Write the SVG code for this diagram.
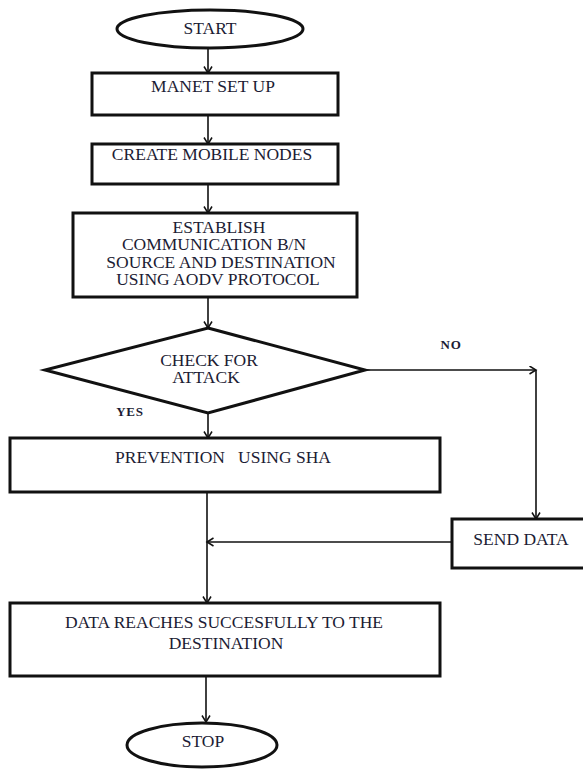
<svg xmlns="http://www.w3.org/2000/svg" width="583" height="769" viewBox="0 0 583 769">
<defs>
<marker id="arr" markerWidth="10" markerHeight="10" refX="7" refY="4.5" orient="auto" markerUnits="userSpaceOnUse">
<path d="M0.5,0.5 L7,4.5 L0.5,8.5" fill="none" stroke="#111" stroke-width="1.5"/>
</marker>
<style>
.box{fill:#fff;stroke:#111;stroke-width:3}
.t{font-family:"Liberation Serif","Times New Roman",serif;font-size:17.5px;fill:#1c1c34;text-anchor:middle}
.lbl{font-family:"Liberation Serif","Times New Roman",serif;font-size:13px;font-weight:bold;fill:#1c1c34;text-anchor:middle;letter-spacing:0.8px}
.c{fill:none;stroke:#111;stroke-width:1.6}
</style>
</defs>
<rect width="583" height="769" fill="#fff"/>
<g id="connectors">
<line class="c" x1="208" y1="49" x2="208" y2="73" marker-end="url(#arr)"/>
<line class="c" x1="208" y1="115" x2="208" y2="144" marker-end="url(#arr)"/>
<line class="c" x1="208" y1="184" x2="208" y2="213" marker-end="url(#arr)"/>
<line class="c" x1="208" y1="297" x2="208" y2="328" marker-end="url(#arr)"/>
<line class="c" x1="208" y1="413" x2="208" y2="438" marker-end="url(#arr)"/>
<line class="c" x1="365" y1="370" x2="536" y2="370" marker-end="url(#arr)"/>
<line class="c" x1="536" y1="370" x2="536" y2="519" marker-end="url(#arr)"/>
<line class="c" x1="207" y1="492" x2="207" y2="603" marker-end="url(#arr)"/>
<line class="c" x1="452" y1="542" x2="207" y2="542" marker-end="url(#arr)"/>
<line class="c" x1="206" y1="676" x2="206" y2="722" marker-end="url(#arr)"/>
<text class="lbl" x="130" y="416">YES</text>
<text class="lbl" x="451" y="349">NO</text>
</g>
<g id="start">
<ellipse class="box" cx="210" cy="29" rx="93" ry="19"/>
<text class="t" x="210" y="34">START</text>
</g>
<g id="manet">
<rect class="box" x="92" y="73" width="246" height="42"/>
<text class="t" x="213" y="92">MANET SET UP</text>
</g>
<g id="create">
<rect class="box" x="92" y="144" width="246" height="40"/>
<text class="t" x="212" y="160">CREATE MOBILE NODES</text>
</g>
<g id="establish">
<rect class="box" x="73" y="213" width="284" height="84"/>
<text class="t" x="219" y="233">ESTABLISH</text>
<text class="t" x="214" y="250">COMMUNICATION B/N</text>
<text class="t" x="221" y="268">SOURCE AND DESTINATION</text>
<text class="t" x="218" y="285">USING AODV PROTOCOL</text>
</g>
<g id="check">
<polygon class="box" points="208,328 365,370 208,413 45,370"/>
<text class="t" x="209" y="366">CHECK FOR</text>
<text class="t" x="206" y="383">ATTACK</text>
</g>
<g id="prevention">
<rect class="box" x="10" y="438" width="430" height="54"/>
<text class="t" x="223" y="463" xml:space="preserve">PREVENTION   USING SHA</text>
</g>
<g id="send">
<rect class="box" x="452" y="519" width="140" height="49"/>
<text class="t" x="521" y="545">SEND DATA</text>
</g>
<g id="reach">
<rect class="box" x="10" y="603" width="430" height="73"/>
<text class="t" x="224" y="628">DATA REACHES SUCCESFULLY TO THE</text>
<text class="t" x="226" y="649">DESTINATION</text>
</g>
<g id="stop">
<ellipse class="box" cx="202" cy="745" rx="75" ry="22"/>
<text class="t" x="203" y="747">STOP</text>
</g>
</svg>
